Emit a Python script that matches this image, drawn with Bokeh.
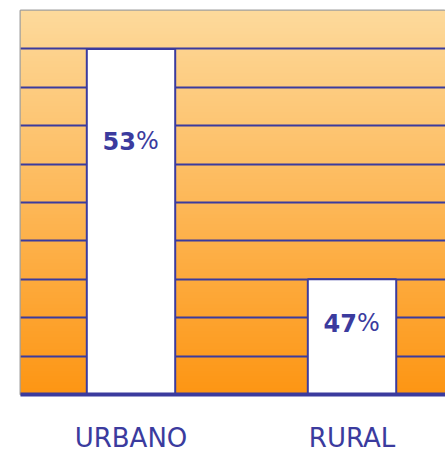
import numpy as np
from bokeh.plotting import figure
from bokeh.models import Range1d, FixedTicker, Label
from bokeh.embed import file_html
from bokeh.resources import INLINE

# ---- data ----
categories = ["URBANO", "RURAL"]
shares = [53, 47]
share_numbers = ["53", "47"]
y_ticks = [44, 45, 46, 47, 48, 49, 50, 51, 52, 53, 54]

# ---- styling ----
BLUE = "#3b3b9e"
xs = list(range(len(categories)))
label_offsets = [2.4, 1.15]

p = figure(width=445, height=464, output_backend="svg", toolbar_location=None,
           x_range=Range1d(-0.5, 1.423), y_range=Range1d(44, 54),
           min_border_left=20, min_border_right=0, min_border_top=10,
           min_border_bottom=70)

# background gradient (decoration)
n = 256
top = np.array([253, 218, 156])
bot = np.array([254, 150, 20])
t = np.linspace(0, 1, n)[:, None]
cols = (bot * (1 - t) + top * t).astype(np.uint32)
img = np.empty((n, 1), dtype=np.uint32)
view = img.view(dtype=np.uint8).reshape((n, 1, 4))
view[:, 0, 0] = cols[:, 0]
view[:, 0, 1] = cols[:, 1]
view[:, 0, 2] = cols[:, 2]
view[:, 0, 3] = 255
p.image_rgba(image=[img], x=-0.5, y=44, dw=1.923, dh=10, level="image")

p.vbar(x=xs, top=shares, bottom=44, width=0.4, fill_color="white",
       line_color=BLUE, line_width=2)

for x, v, num, off in zip(xs, shares, share_numbers, label_offsets):
    p.add_layout(Label(x=x, y=v - off, text=num, text_align="right",
                       text_baseline="middle", text_color=BLUE, x_offset=5,
                       text_font="DejaVu Sans", text_font_style="bold",
                       text_font_size="24px"))
    p.add_layout(Label(x=x, y=v - off, text="%", text_align="left",
                       text_baseline="middle", text_color=BLUE, x_offset=5,
                       text_font="DejaVu Sans", text_font_size="24px"))

p.ygrid.ticker = FixedTicker(ticks=y_ticks)
p.ygrid.grid_line_color = BLUE
p.ygrid.grid_line_width = 2
p.xgrid.visible = False
p.yaxis.visible = False

p.xaxis.ticker = FixedTicker(ticks=xs)
p.xaxis.major_label_overrides = {x: c for x, c in zip(xs, categories)}
p.xaxis.major_tick_line_color = None
p.xaxis.minor_tick_line_color = None
p.xaxis.major_tick_out = 0
p.xaxis.major_label_standoff = 28
p.xaxis.major_label_text_font = "DejaVu Sans"
p.xaxis.major_label_text_font_size = "26px"
p.xaxis.major_label_text_color = BLUE
p.xaxis.axis_line_color = BLUE
p.xaxis.axis_line_width = 4

p.outline_line_color = "#a0a0a0"
p.outline_line_width = 2
p.background_fill_color = "white"
p.border_fill_color = "white"

open("out.html", "w").write(file_html(p, INLINE))
